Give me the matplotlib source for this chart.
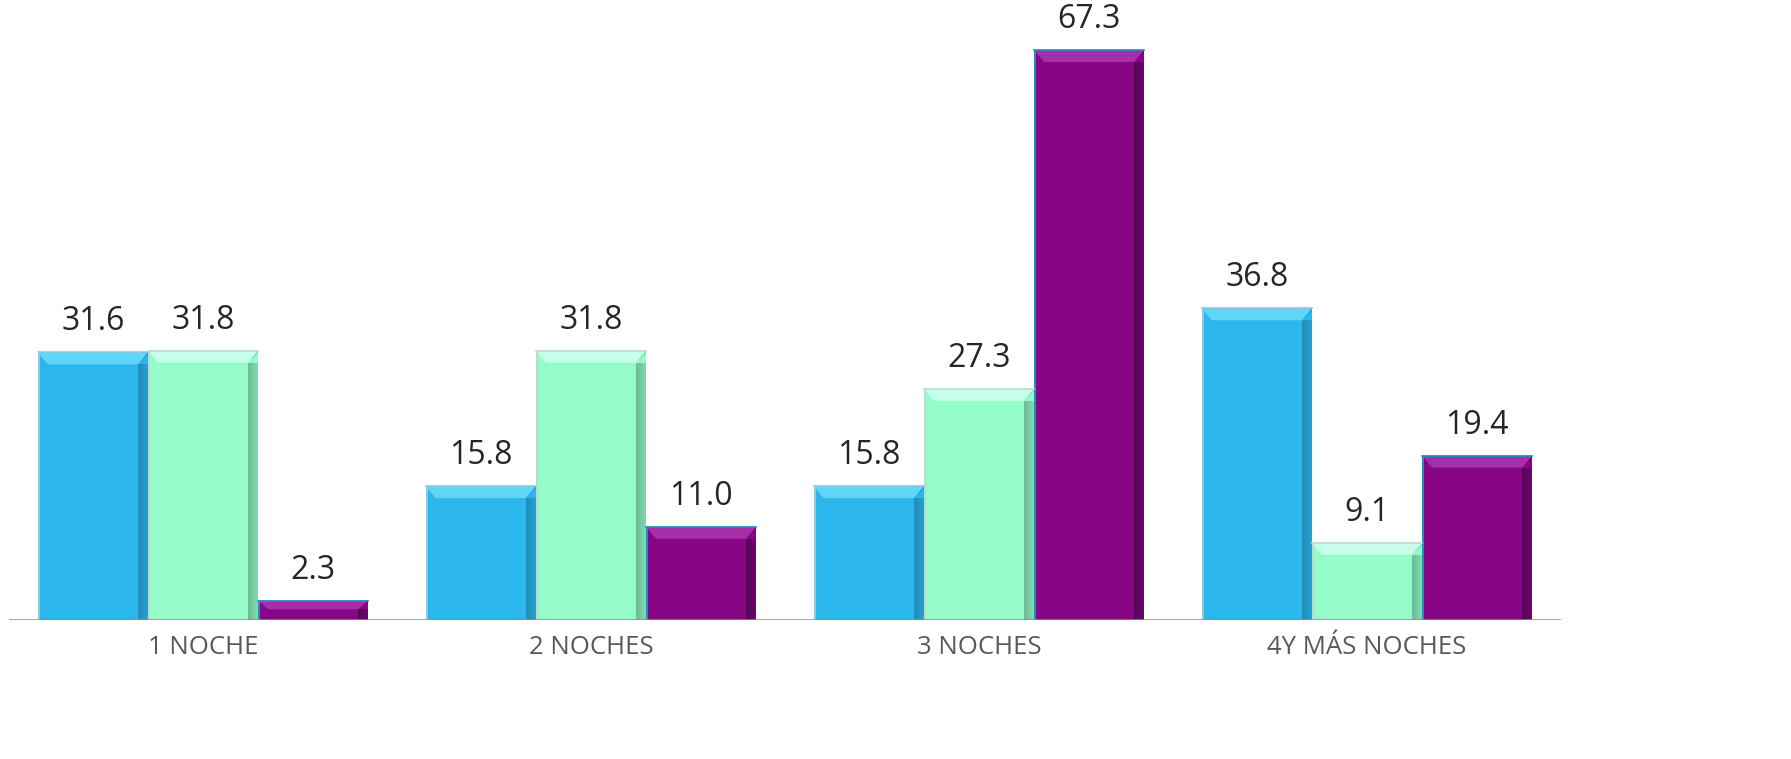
import matplotlib
matplotlib.use('Agg')
import matplotlib.pyplot as plt
import matplotlib.patches as patches
import numpy as np

categories = ['1 NOCHE', '2 NOCHES', '3 NOCHES', '4Y MÁS NOCHES']
serie_a = [31.6, 15.8, 15.8, 36.8]
serie_b = [31.8, 31.8, 27.3, 9.1]
serie_c = [2.3, 11.0, 67.3, 19.4]

# main, top bevel, right shade, left edge
colors = [
    ('#2BB6EC', '#5FD6F7', '#1D6E90', '#8FC9DE'),
    ('#94FCC9', '#C6FFEC', '#4F8A70', '#B9DCCD'),
    ('#880585', '#A52FA8', '#2A0835', '#1E8FBF'),
]

fig = plt.figure(figsize=(17.91, 7.59), dpi=100)
ax = fig.add_axes([9 / 1791, 139 / 759, 1552 / 1791, 620 / 759])
ax.set_xlim(-0.5, 3.5)
ax.set_ylim(0, 73.2)

x = np.arange(len(categories))
w = 0.284
px_x = 4.0 / 1552   # data units per pixel
px_y = 73.2 / 620

for i, (vals, col) in enumerate(zip([serie_a, serie_b, serie_c], colors)):
    bars = ax.bar(x + (i - 1) * w, vals, w, color=col[0], edgecolor='none', zorder=2)
    for b, v in zip(bars, vals):
        x0, x1 = b.get_x(), b.get_x() + b.get_width()
        bx = 10 * px_x
        by = min(12 * px_y, v * 0.45)
        # top bevel
        ax.add_patch(patches.Polygon([[x0, v], [x1, v], [x1 - bx, v - by], [x0 + bx, v - by]],
                                     closed=True, fc=col[1], ec='none', zorder=3))
        # right shade (gradient-ish, several strips)
        for k in range(5):
            ax.add_patch(patches.Rectangle((x1 - bx * (k + 1) / 5, 0), bx / 5, v - by,
                                           fc=col[2], ec='none', alpha=0.15 + 0.1 * (4 - k) * 0.4 + 0.1 * k,
                                           zorder=3))
        ax.add_patch(patches.Polygon([[x1, v], [x1, v - by * 0.2], [x1 - bx, v - by]],
                                     closed=True, fc=col[2], ec='none', alpha=0.3, zorder=3))
        # left edge
        ax.add_patch(patches.Rectangle((x0, 0), 2 * px_x, v, fc=col[3], ec='none', zorder=3))
        ax.plot([x0, x1], [v, v], color=col[3], lw=1.2, zorder=4)
        ax.annotate(f'{v:.1f}', (b.get_x() + b.get_width() / 2, v), xytext=(0, 10),
                    textcoords='offset points', ha='center', va='bottom',
                    fontsize=23, color='#262626', family='Open Sans')

ax.axhline(0, color='#8C8C8C', lw=1.8, zorder=5)
for s in ax.spines.values():
    s.set_visible(False)
ax.set_yticks([])
ax.set_xticks(x)
ax.set_xticklabels(categories, fontsize=18.5, color='#595959', family='Open Sans')
ax.tick_params(axis='x', length=0, pad=11)

fig.savefig('out.png', dpi=100, facecolor='white')
